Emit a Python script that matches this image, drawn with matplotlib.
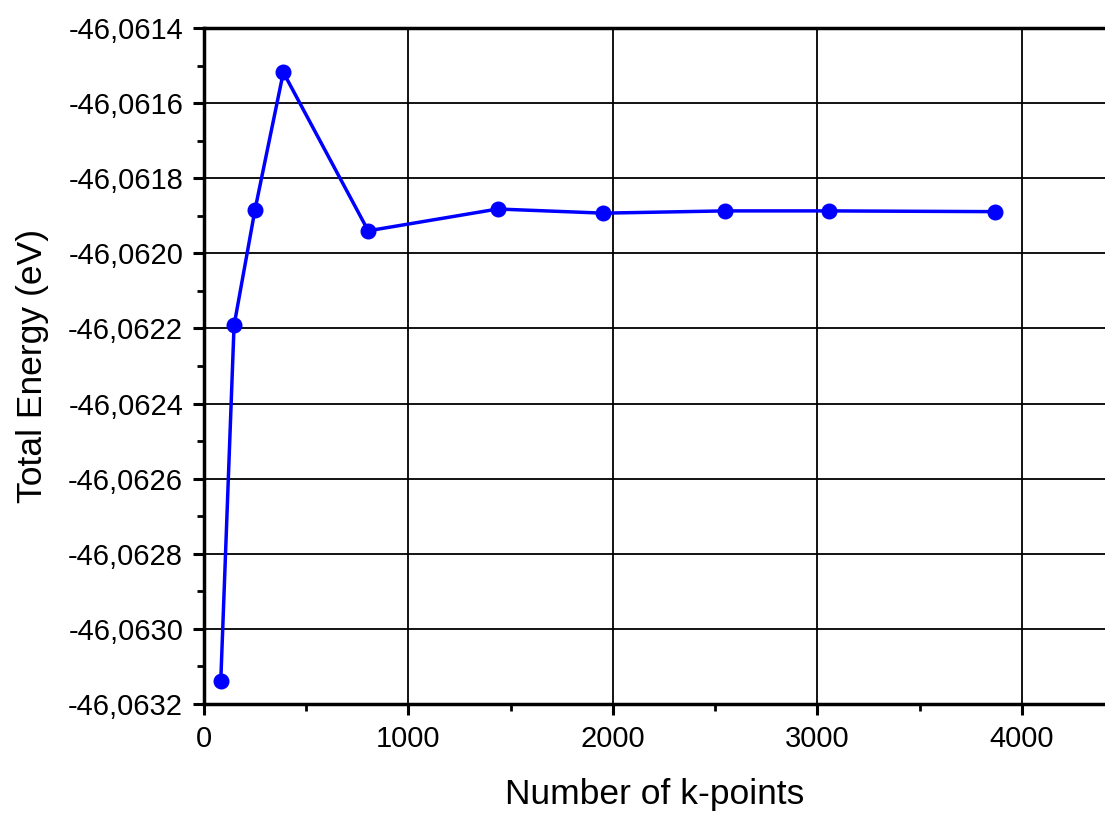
import matplotlib
matplotlib.use("Agg")
import matplotlib.pyplot as plt
from matplotlib.ticker import MultipleLocator, FuncFormatter

kpoints = [82, 147, 249, 388, 803, 1436, 1953, 2548, 3056, 3868]
energy = [-46.063139, -46.062192, -46.061885, -46.061518, -46.061940,
          -46.061882, -46.061893, -46.061887, -46.061887, -46.061889]

plt.rcParams['font.family'] = ['Liberation Sans', 'DejaVu Sans']

W, H = 1105, 815
fig = plt.figure(figsize=(W / 100, H / 100), dpi=100)
ax = fig.add_axes([204 / W, (H - 704) / H, 901 / W, 676 / H])

ax.plot(kpoints, energy, color='#0000ff', lw=2.5, marker='o', ms=10.5,
        markeredgecolor='#0000ff', zorder=3, clip_on=False)

ax.set_xlim(0, 4406)
ax.set_ylim(-46.0632, -46.0614)

ax.xaxis.set_major_locator(MultipleLocator(1000))
ax.xaxis.set_minor_locator(MultipleLocator(500))
ax.yaxis.set_major_locator(MultipleLocator(0.0002))
ax.yaxis.set_minor_locator(MultipleLocator(0.0001))

ax.yaxis.set_major_formatter(FuncFormatter(lambda v, p: f"{v:.4f}".replace('.', ',')))
ax.xaxis.set_major_formatter(FuncFormatter(lambda v, p: f"{v:.0f}"))

ax.grid(True, which='major', color='black', lw=1.3)
ax.set_axisbelow(True)

for s in ['left', 'bottom', 'top']:
    ax.spines[s].set_linewidth(2.5)
ax.spines['right'].set_visible(False)

ax.tick_params(which='major', direction='out', length=8, width=2.2,
               labelsize=21, pad=7)
ax.tick_params(which='minor', direction='out', length=5, width=2.0)

ax.set_xlabel('Number of k-points', fontsize=25.5, labelpad=18)
ax.set_ylabel('Total Energy (eV)', fontsize=25.5, labelpad=14)

fig.savefig('out.png', dpi=100)
